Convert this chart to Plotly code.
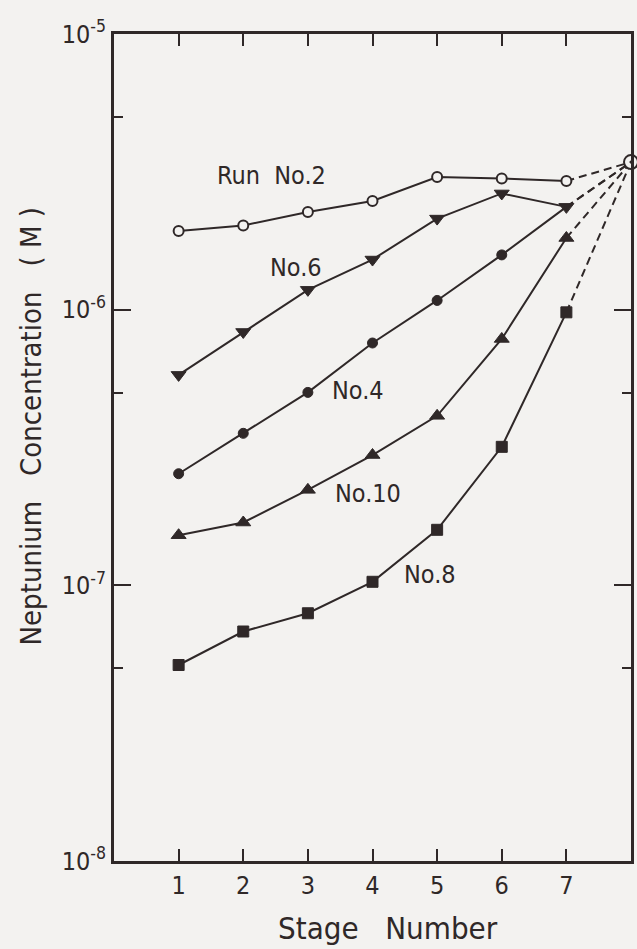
import plotly.graph_objects as go

# ---- data ----
stages = [1, 2, 3, 4, 5, 6, 7]
run2 = [1.93e-6, 2.02e-6, 2.26e-6, 2.48e-6, 3.03e-6, 2.99e-6, 2.93e-6]
run6 = [5.8e-7, 8.3e-7, 1.18e-6, 1.52e-6, 2.14e-6, 2.64e-6, 2.36e-6]
run4 = [2.54e-7, 3.56e-7, 5.01e-7, 7.57e-7, 1.08e-6, 1.58e-6, 2.36e-6]
run10 = [1.52e-7, 1.69e-7, 2.22e-7, 2.97e-7, 4.12e-7, 7.83e-7, 1.82e-6]
run8 = [5.14e-8, 6.8e-8, 7.92e-8, 1.03e-7, 1.59e-7, 3.18e-7, 9.78e-7]
feed_stage = 8
feed_conc = 3.43e-6

x_ticks = [1, 2, 3, 4, 5, 6, 7]
y_major = [1e-8, 1e-7, 1e-6, 1e-5]
y_major_text = ["10<sup>-8</sup>", "10<sup>-7</sup>", "10<sup>-6</sup>", "10<sup>-5</sup>"]
y_minor = [5e-8, 5e-7, 5e-6]

labels = ["Run  No.2", "No.6", "No.4", "No.10", "No.8"]

# ---- style ----
INK = "#2f2828"
BG = "#f3f2f0"
FONT = "Liberation Sans Narrow, DejaVu Sans Condensed, Arial Narrow, sans-serif"
W, H = 637, 949
L, R, T, B = 114, 3, 34, 88
PW, PH = W - L - R, H - T - B


def px(xp):
    return (xp - L) / PW


def py(yp):
    return (H - B - yp) / PH


fig = go.Figure()

# (values, symbol, size, fill, markers shown)
series = [
    (run2, "circle", 10, BG, 7),
    (run6, "triangle-down", 13, INK, 7),
    (run4, "circle", 10, INK, 6),
    (run10, "triangle-up", 13, INK, 7),
    (run8, "square", 11, INK, 7),
]

# dashed extrapolations to the feed point
for ys, sym, size, fill, nmk in series:
    fig.add_trace(go.Scatter(
        x=[stages[-1], feed_stage], y=[ys[-1], feed_conc], mode="lines",
        line=dict(color=INK, width=2, dash="8px,5px"), showlegend=False,
        hoverinfo="skip"))

for ys, sym, size, fill, nmk in series:
    sizes = [size] * nmk + [0] * (len(ys) - nmk)
    fig.add_trace(go.Scatter(
        x=stages, y=ys, mode="lines+markers",
        line=dict(color=INK, width=2),
        marker=dict(symbol=sym, size=sizes, color=fill, opacity=1,
                    line=dict(color=INK, width=2 if fill == BG else 1)),
        showlegend=False, cliponaxis=False))

fig.add_trace(go.Scatter(
    x=[feed_stage], y=[feed_conc], mode="markers",
    marker=dict(symbol="circle-dot", size=14, color=BG, opacity=1,
                line=dict(color=INK, width=2)),
    showlegend=False, cliponaxis=False))

# series labels
label_pos = [(272, 176), (297, 267), (359, 390), (369, 493), (432, 574)]
for text, (xp, yp) in zip(labels, label_pos):
    fig.add_annotation(x=px(xp), y=py(yp), xref="paper", yref="paper",
                       text=text, showarrow=False,
                       font=dict(family=FONT, size=25, color=INK),
                       xanchor="center", yanchor="middle")

# axis titles as annotations
fig.add_annotation(x=px(390), y=py(928), xref="paper", yref="paper",
                   text="Stage   Number", showarrow=False,
                   font=dict(family=FONT, size=31, color=INK),
                   xanchor="center", yanchor="middle")
fig.add_annotation(x=px(31), y=py(426), xref="paper", yref="paper",
                   text="Neptunium   Concentration   ( M )", showarrow=False,
                   textangle=-90,
                   font=dict(family=FONT, size=29, color=INK),
                   xanchor="center", yanchor="middle")

fig.update_layout(
    width=W, height=H,
    margin=dict(l=L, r=R, t=T, b=B, pad=0),
    paper_bgcolor=BG, plot_bgcolor=BG,
    font=dict(family=FONT, color=INK, size=24),
    xaxis=dict(range=[0, 8], tickmode="array", tickvals=x_ticks,
               ticktext=[str(v) for v in x_ticks],
               ticks="inside", ticklen=12, tickwidth=2, tickcolor=INK,
               showline=True, linewidth=3, linecolor=INK, mirror="ticks",
               showgrid=False, zeroline=False,
               tickfont=dict(family=FONT, size=25, color=INK)),
    yaxis=dict(type="log", range=[-8, -5], tickmode="array",
               tickvals=y_major, ticktext=y_major_text,
               ticks="inside", ticklen=17, tickwidth=2, tickcolor=INK,
               showline=True, linewidth=3, linecolor=INK, mirror="ticks",
               showgrid=False, zeroline=False,
               minor=dict(tickmode="array", tickvals=y_minor, ticks="inside",
                          ticklen=9, tickwidth=2, tickcolor=INK, showgrid=False),
               tickfont=dict(family=FONT, size=25, color=INK)),
)

fig.write_html("out.html")
